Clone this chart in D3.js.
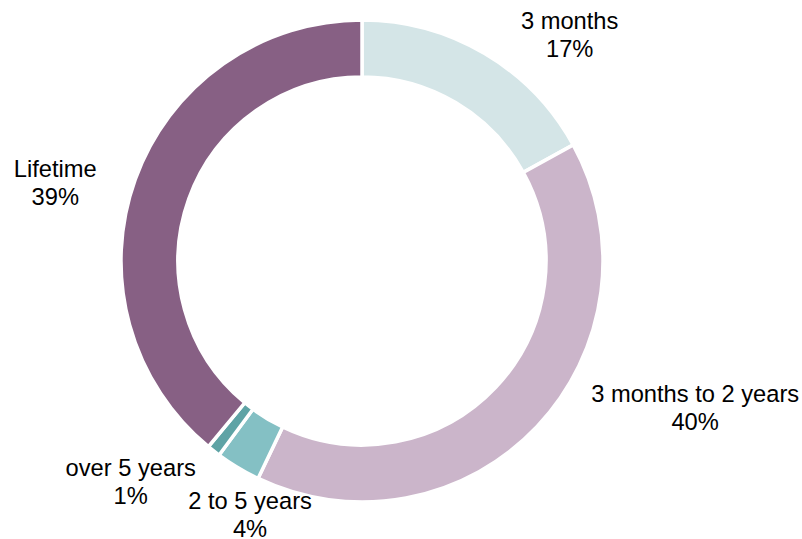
<!DOCTYPE html>
<html>
<head>
<meta charset="utf-8">
<script src="https://cdn.jsdelivr.net/npm/d3@7"></script>
<style>
    body { margin: 0; background: #ffffff; }
    svg { display: block; }
    text { font-family: "Liberation Sans", Arial, sans-serif; fill: #000000; }
</style>
</head>
<body>
<div id="chart"><svg></svg></div>
<script>
// Set data
const categories = ["3 months", "3 months to 2 years", "2 to 5 years", "over 5 years", "Lifetime"];
const shares = [17.0, 40.1, 3.0, 0.9, 39.0];
const shareLabels = ["17%", "40%", "4%", "1%", "39%"];
const colors = ["#d4e5e7", "#cbb5ca", "#84c0c4", "#5ea3a5", "#876084"];
// label nudges from the outer arc point (dx, dy)
const labelNudgeX = [85, 158, 12, -83, -80];
const labelNudgeY = [-19, -19, 47, 31, 3];

// Set width and height
const width = 802;
const height = 539;
const cx = 362, cy = 261;
const outerRadius = 241;
const innerRadius = 184;

const canvas = d3.select("#chart svg")
    .attr("width", width)
    .attr("height", height);

const g = canvas.append("g")
    .attr("transform", "translate(" + cx + "," + cy + ")");

const slices = categories.map(function(name, i){
    return {name: name, value: shares[i], label: shareLabels[i], color: colors[i], i: i};
});

const pie = d3.pie()
    .sort(null)
    .value(d => d.value);

const arc = d3.arc()
    .innerRadius(innerRadius)
    .outerRadius(outerRadius);

const arcs = pie(slices);

g.selectAll("path.slice")
    .data(arcs)
    .enter()
    .append("path")
    .attr("class", "slice")
    .attr("d", arc)
    .attr("fill", d => d.data.color)
    .attr("stroke", "#ffffff")
    .attr("stroke-width", 3.5)
    .attr("stroke-linejoin", "miter");

// labels
const fontSize = 23.7;
const lineGap = 28;

const labels = g.selectAll("text.label")
    .data(arcs)
    .enter()
    .append("text")
    .attr("class", "label")
    .attr("text-anchor", "middle")
    .style("font-size", fontSize + "px");

labels.each(function(d){
    const mid = (d.startAngle + d.endAngle) / 2;
    const x = Math.sin(mid) * outerRadius + labelNudgeX[d.data.i];
    const y = -Math.cos(mid) * outerRadius + labelNudgeY[d.data.i];
    const t = d3.select(this);
    t.append("tspan")
        .attr("x", x)
        .attr("y", y - 5.5)
        .text(d.data.name);
    t.append("tspan")
        .attr("x", x)
        .attr("y", y - 5.5 + lineGap)
        .text(d.data.label);
});
</script>
</body>
</html>
